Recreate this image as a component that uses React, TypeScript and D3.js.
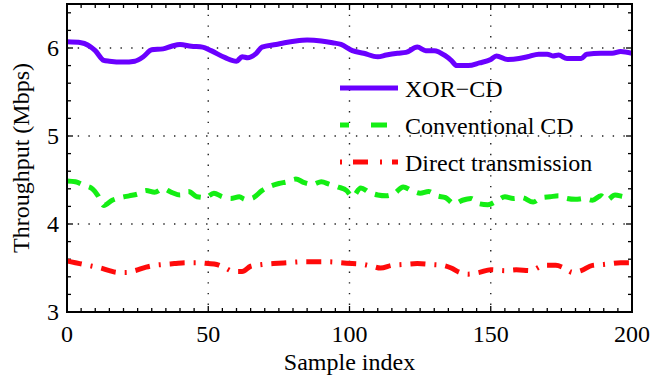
import * as d3 from 'd3';

// XOR-CD (solid)
const xorIdx = [0, 5, 10, 13, 15, 20, 24, 27, 30, 34, 37, 40, 44, 48, 51, 56, 60, 62, 64, 67, 69, 74, 77, 81, 85, 90, 94, 97, 101, 105, 110, 113, 117, 120, 124, 127, 130, 134, 136, 138, 142, 146, 150, 152, 156, 160, 163, 167, 170, 172, 174, 177, 182, 184, 189, 193, 196, 200];
const xorVal = [6.07, 6.06, 5.97, 5.86, 5.85, 5.84, 5.85, 5.90, 5.98, 5.99, 6.02, 6.04, 6.02, 6.01, 5.97, 5.89, 5.85, 5.90, 5.89, 5.94, 6.01, 6.04, 6.06, 6.08, 6.09, 6.08, 6.06, 6.04, 5.97, 5.94, 5.90, 5.92, 5.94, 5.95, 6.01, 5.97, 5.97, 5.91, 5.86, 5.80, 5.80, 5.83, 5.87, 5.91, 5.87, 5.88, 5.90, 5.93, 5.93, 5.91, 5.92, 5.88, 5.88, 5.93, 5.94, 5.94, 5.96, 5.94];

// Conventional CD (dashed)
const convIdx = [0, 3, 6, 9, 11, 13, 16, 19, 22, 25, 28, 31, 34, 37, 40, 43, 46, 49, 52, 55, 58, 61, 63, 66, 69, 72, 75, 78, 81, 84, 87, 90, 93, 96, 99, 101, 104, 107, 110, 113, 116, 119, 122, 125, 128, 131, 134, 137, 140, 143, 146, 149, 152, 155, 158, 161, 165, 168, 171, 174, 177, 180, 183, 186, 189, 191, 194, 197, 200];
const convVal = [4.49, 4.48, 4.44, 4.40, 4.32, 4.21, 4.27, 4.30, 4.32, 4.34, 4.38, 4.36, 4.40, 4.36, 4.33, 4.37, 4.31, 4.30, 4.35, 4.31, 4.29, 4.31, 4.28, 4.30, 4.38, 4.43, 4.46, 4.48, 4.51, 4.47, 4.45, 4.48, 4.45, 4.42, 4.38, 4.31, 4.41, 4.36, 4.33, 4.32, 4.35, 4.42, 4.38, 4.35, 4.37, 4.32, 4.30, 4.23, 4.27, 4.29, 4.23, 4.22, 4.26, 4.31, 4.29, 4.30, 4.25, 4.30, 4.31, 4.32, 4.29, 4.28, 4.29, 4.27, 4.32, 4.27, 4.33, 4.31, 4.30];

// Direct transmission (dash-dot)
const directIdx = [0, 3, 6, 9, 12, 15, 18, 21, 24, 28, 31, 34, 38, 42, 46, 50, 53, 56, 59, 62, 65, 69, 73, 78, 83, 88, 93, 97, 101, 105, 108, 111, 115, 119, 124, 129, 133, 136, 139, 142, 146, 150, 155, 159, 164, 169, 173, 176, 179, 182, 186, 190, 196, 200];
const directVal = [3.58, 3.56, 3.54, 3.52, 3.50, 3.47, 3.45, 3.45, 3.47, 3.51, 3.53, 3.54, 3.55, 3.56, 3.56, 3.55, 3.54, 3.50, 3.46, 3.46, 3.52, 3.54, 3.55, 3.56, 3.57, 3.57, 3.57, 3.56, 3.55, 3.54, 3.52, 3.50, 3.53, 3.54, 3.55, 3.54, 3.53, 3.50, 3.45, 3.43, 3.45, 3.48, 3.47, 3.48, 3.47, 3.53, 3.53, 3.50, 3.45, 3.47, 3.53, 3.54, 3.56, 3.56];

const xTicks = [0, 50, 100, 150, 200];
const yTicks = [3, 4, 5, 6];
const legendLabels = ['XOR\u2212CD', 'Conventional CD', 'Direct transmission'];

const SERIES = [
  { idx: xorIdx, val: xorVal, color: '#6a00ff', dash: undefined },
  { idx: convIdx, val: convVal, color: '#14ee14', dash: '14 9' },
  { idx: directIdx, val: directVal, color: '#ff0a0a', dash: '15 9 2 9' },
];
const LEGEND_DASH = [undefined, '9 22 16 30', '2 11 15 12 2 10 15'];

const FONT = 'Liberation Serif';
const width = 658;
const height = 377;
const margin = { top: 4, right: 26, bottom: 65, left: 67 };
const w = width - margin.left - margin.right;
const h = height - margin.top - margin.bottom;

export default function App() {
  const x = d3.scaleLinear().domain([0, 200]).range([0, w]);
  const y = d3.scaleLinear().domain([3, 6.5]).range([h, 0]);
  const xMinor = d3.range(0, 201, 5);
  const yMinor = d3.range(3, 6.5, 0.2);
  const isMajorY = (t: number) => Math.abs(t - Math.round(t)) < 1e-6;

  return (
    <>
      <style>{'body{margin:0}'}</style>
      <svg width={width} height={height} style={{ display: 'block', background: '#fff' }}>
        <defs>
          <clipPath id="plot-clip">
            <rect width={w} height={h} />
          </clipPath>
        </defs>
        <g transform={`translate(${margin.left},${margin.top})`}>
          {/* dotted grid */}
          {xTicks.slice(1, -1).map((t) => (
            <line key={'gx' + t} x1={x(t)} x2={x(t)} y1={0} y2={h} stroke="#222" strokeWidth={1.4} strokeDasharray="1.4 9.3" />
          ))}
          {yTicks.slice(1).map((t) => (
            <line key={'gy' + t} x1={0} x2={w} y1={y(t)} y2={y(t)} stroke="#222" strokeWidth={1.4} strokeDasharray="1.4 9.3" />
          ))}

          {/* inward ticks on all four sides */}
          {xMinor.map((t) => {
            const len = t % 50 === 0 ? 6 : 4;
            return (
              <g key={'tx' + t} stroke="#000" strokeWidth={1.3}>
                <line x1={x(t)} x2={x(t)} y1={h} y2={h - len} />
                <line x1={x(t)} x2={x(t)} y1={0} y2={len} />
              </g>
            );
          })}
          {yMinor.map((t) => {
            const len = isMajorY(t) ? 6 : 4;
            return (
              <g key={'ty' + t} stroke="#000" strokeWidth={1.3}>
                <line x1={0} x2={len} y1={y(t)} y2={y(t)} />
                <line x1={w} x2={w - len} y1={y(t)} y2={y(t)} />
              </g>
            );
          })}

          {/* series */}
          {SERIES.map((s, k) => {
            const line = d3.line<number>().x((_, i) => x(s.idx[i])).y((d) => y(d)).curve(d3.curveMonotoneX);
            return (
              <path key={'s' + k} d={line(s.val) ?? ''} fill="none" stroke={s.color} strokeWidth={5}
                strokeDasharray={s.dash} clipPath="url(#plot-clip)" />
            );
          })}

          <rect width={w} height={h} fill="none" stroke="#000" strokeWidth={2} />

          {/* tick labels */}
          {xTicks.map((t) => (
            <text key={'lx' + t} x={x(t)} y={h + 30} textAnchor="middle" fontFamily={FONT} fontSize={24}>{t}</text>
          ))}
          {yTicks.map((t) => (
            <text key={'ly' + t} x={-8} y={y(t) + 8} textAnchor="end" fontFamily={FONT} fontSize={24}>{t}</text>
          ))}
        </g>

        {/* axis titles */}
        <text x={margin.left + w / 2} y={370} textAnchor="middle" fontFamily={FONT} fontSize={24}>Sample index</text>
        <text transform={`translate(29,${margin.top + h / 2}) rotate(-90)`} textAnchor="middle" fontFamily={FONT} fontSize={24}>
          Throughput (Mbps)
        </text>

        {/* legend */}
        {legendLabels.map((label, i) => {
          const ly = 88 + i * 37;
          return (
            <g key={label}>
              <line x1={340} x2={398} y1={ly} y2={ly} stroke={SERIES[i].color} strokeWidth={5} strokeDasharray={LEGEND_DASH[i]} />
              <text x={405} y={ly + 8.5} fontFamily={FONT} fontSize={24}>{label}</text>
            </g>
          );
        })}
      </svg>
    </>
  );
}
